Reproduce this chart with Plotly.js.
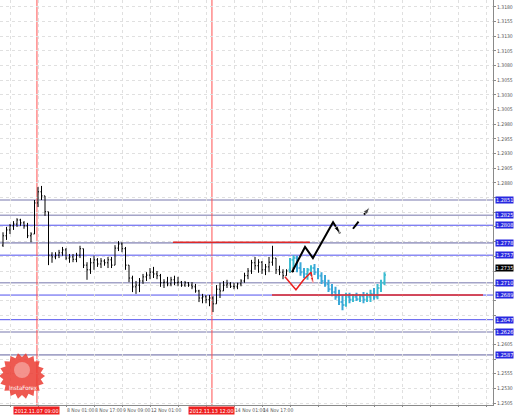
<!DOCTYPE html>
<html><head><meta charset="utf-8">
<script src="https://cdn.plot.ly/plotly-3.0.1.min.js"></script>
<style>html,body{margin:0;padding:0;background:#fff}#c{width:519px;height:417px}</style>
</head><body><div id="c"></div>
<script>
// ---- data: price bars (hours since 6 Nov 17:00) ----
const barHours = [-4,-2,0,2,4,6,8,10,12,14,16,18,20,22,24,26,28,30,32,34,36,38,40,42,44,46,48,50,52,54,56,58,60,62,64,66,68,70,72,74,76,78,80,82,84,86,88,90,92,94,96,98,100,102,104,106,108,110,112,114,116,118,120,122,124,126,128,130,132,134,136,138,140,142,144,146,148,150,152,154,156,158,160,162];
const barOpen = [1.2774,1.2790,1.2800,1.2807,1.2810,1.2817,1.2812,1.2807,1.2790,1.2793,1.2846,1.2865,1.2858,1.2831,1.2757,1.2754,1.2757,1.2761,1.2766,1.2752,1.2754,1.2750,1.2757,1.2768,1.2740,1.2732,1.2744,1.2749,1.2742,1.2747,1.2744,1.2749,1.2740,1.2769,1.2776,1.2768,1.2740,1.2718,1.2703,1.2706,1.2713,1.2720,1.2723,1.2728,1.2725,1.2722,1.2710,1.2711,1.2708,1.2715,1.2710,1.2711,1.2706,1.2710,1.2706,1.2703,1.2696,1.2684,1.2686,1.2681,1.2684,1.2674,1.2699,1.2696,1.2706,1.2708,1.2704,1.2703,1.2708,1.2713,1.2722,1.2730,1.2744,1.2739,1.2745,1.2732,1.2737,1.2745,1.2752,1.2732,1.2728,1.2722,1.2730,1.2735];
const barHigh = [1.2796,1.2805,1.2810,1.2815,1.2820,1.2819,1.2815,1.2812,1.2796,1.2851,1.2873,1.2875,1.2858,1.2831,1.2762,1.2762,1.2766,1.2771,1.2769,1.2759,1.2759,1.2761,1.2773,1.2768,1.2745,1.2752,1.2756,1.2752,1.2752,1.2750,1.2754,1.2754,1.2774,1.2781,1.2779,1.2771,1.2740,1.2722,1.2713,1.2718,1.2725,1.2728,1.2735,1.2737,1.2730,1.2725,1.2716,1.2720,1.2720,1.2722,1.2720,1.2713,1.2713,1.2711,1.2711,1.2708,1.2698,1.2691,1.2689,1.2689,1.2687,1.2706,1.2710,1.2713,1.2715,1.2711,1.2710,1.2710,1.2716,1.2727,1.2735,1.2749,1.2754,1.2750,1.2747,1.2742,1.2754,1.2773,1.2752,1.2739,1.2733,1.2733,1.2740,1.2739];
const barLow = [1.2771,1.2783,1.2793,1.2800,1.2805,1.2807,1.2802,1.2786,1.2779,1.2793,1.2839,1.2851,1.2824,1.2740,1.2744,1.2750,1.2752,1.2756,1.2749,1.2744,1.2745,1.2745,1.2752,1.2735,1.2715,1.2725,1.2732,1.2737,1.2735,1.2739,1.2735,1.2735,1.2740,1.2764,1.2762,1.2732,1.2711,1.2694,1.2691,1.2694,1.2708,1.2713,1.2716,1.2718,1.2716,1.2703,1.2701,1.2704,1.2704,1.2706,1.2704,1.2703,1.2703,1.2703,1.2699,1.2693,1.2677,1.2675,1.2675,1.2670,1.2660,1.2674,1.2684,1.2696,1.2701,1.2701,1.2699,1.2699,1.2704,1.2710,1.2716,1.2725,1.2732,1.2727,1.2725,1.2723,1.2728,1.2739,1.2725,1.2723,1.2716,1.2722,1.2727,1.2728];
const barClose = [1.2790,1.2800,1.2807,1.2810,1.2817,1.2812,1.2807,1.2790,1.2793,1.2846,1.2865,1.2858,1.2831,1.2757,1.2754,1.2757,1.2761,1.2766,1.2752,1.2754,1.2750,1.2757,1.2768,1.2740,1.2732,1.2744,1.2749,1.2742,1.2747,1.2744,1.2749,1.2740,1.2769,1.2776,1.2768,1.2740,1.2718,1.2703,1.2706,1.2713,1.2720,1.2723,1.2728,1.2725,1.2722,1.2710,1.2711,1.2708,1.2715,1.2710,1.2711,1.2706,1.2710,1.2706,1.2703,1.2696,1.2684,1.2686,1.2681,1.2684,1.2674,1.2699,1.2696,1.2706,1.2708,1.2704,1.2703,1.2708,1.2713,1.2722,1.2730,1.2744,1.2739,1.2745,1.2732,1.2737,1.2745,1.2752,1.2732,1.2728,1.2722,1.2730,1.2735,1.2735];

// ---- data: projected (analog) bars ----
const projHours = [160,162,164,166,168,170,172,174,176,178,180,182,184,186,188,190,192,194,196,198,200,202,204,206,208,210,212,214];
const projOpen = [1.2732,1.2749,1.2752,1.2735,1.2728,1.2725,1.2732,1.2735,1.2728,1.2722,1.2713,1.2708,1.2699,1.2694,1.2686,1.2677,1.2672,1.2686,1.2681,1.2686,1.2682,1.2687,1.2681,1.2686,1.2691,1.2686,1.2701,1.2710];
const projHigh = [1.2752,1.2757,1.2756,1.2745,1.2735,1.2735,1.2740,1.2742,1.2735,1.2728,1.2723,1.2715,1.2708,1.2703,1.2698,1.2689,1.2693,1.2693,1.2691,1.2693,1.2691,1.2694,1.2693,1.2698,1.2701,1.2708,1.2715,1.2728];
const projLow = [1.2728,1.2735,1.2728,1.2722,1.2718,1.2715,1.2722,1.2723,1.2716,1.2708,1.2703,1.2694,1.2687,1.2681,1.2672,1.2663,1.2669,1.2675,1.2677,1.2679,1.2677,1.2675,1.2677,1.2677,1.2681,1.2682,1.2694,1.2706];
const projClose = [1.2749,1.2752,1.2735,1.2728,1.2725,1.2732,1.2735,1.2728,1.2722,1.2713,1.2708,1.2699,1.2694,1.2686,1.2677,1.2672,1.2686,1.2681,1.2686,1.2682,1.2687,1.2681,1.2686,1.2691,1.2686,1.2701,1.2710,1.2723];

// ---- data: forecast zigzags ----
const blackPathH = [161.1,168.6,173.1,184.6,188.6];
const blackPathP = [1.2728,1.2771,1.2752,1.2813,1.2794];
const dashPathH = [196.0,205.7];
const dashPathP = [1.2802,1.2839];
const redPathH = [157.1,163.4,168.0,172.0,173.1];
const redPathP = [1.2720,1.2698,1.2716,1.2728,1.2710];

// ---- data: levels ----
const levelPrices = [1.2851,1.2825,1.2808,1.2778,1.2757,1.2710,1.2689,1.2647,1.2626,1.2587];
const levelKinds = ['g','g','b','g','b','g','b','b','g','g'];
const redLevelPrices = [1.2779,1.2689];
const redLevelFrom = [93.1,149.7];
const redLevelTo = [171.4,270.3];
const lastPrice = 1.2735;
const markerHours = [15.4,115.4];
const markerLabels = ['2012.11.07 09:00','2012.11.13 12:00'];

// ---- axis ticks ----
const priceTicks = [1.2505,1.2530,1.2555,1.2580,1.2605,1.2630,1.2655,1.2680,1.2705,1.2730,1.2755,1.2780,1.2805,1.2830,1.2855,1.2880,1.2905,1.2930,1.2955,1.2980,1.3005,1.3030,1.3055,1.3080,1.3105,1.3130,1.3155,1.3180];
const tickHours = [-16,0,16,32,48,64,80,96,112,128,144,160,176,192,208,224,240,256,272];
const tickLabels = ['6 Nov 01:00','6 Nov 17:00','7 Nov 09:00','8 Nov 01:00','8 Nov 17:00','9 Nov 09:00','12 Nov 01:00','12 Nov 17:00','13 Nov 09:00','14 Nov 01:00','14 Nov 17:00','','','','','','','',''];

// labels hidden behind the marker boxes
const boxPrices = levelPrices.concat([lastPrice]);
const priceText = priceTicks.map(t => boxPrices.some(b => Math.abs(b - t) < 0.0012) ? '' : t.toFixed(4));
const xText = tickLabels.map((s,i) => markerHours.some(h => tickHours[i] < h + 10 && tickHours[i] > h - 20) ? '' : s);

const traces = [
  {type:'ohlc', x:barHours, open:barOpen, high:barHigh, low:barLow, close:barClose,
   increasing:{line:{color:'#000',width:1}}, decreasing:{line:{color:'#000',width:1}},
   tickwidth:0.3, hoverinfo:'skip', showlegend:false},
  {type:'ohlc', x:projHours, open:projOpen, high:projHigh, low:projLow, close:projClose,
   increasing:{line:{color:'#3cbcd0',width:2}}, decreasing:{line:{color:'#3aa8d8',width:2}},
   tickwidth:0.4, hoverinfo:'skip', showlegend:false},
  {type:'scatter', mode:'lines+markers', x:redPathH, y:redPathP, line:{color:'#e82020',width:1.5},
   marker:{symbol:redPathH.map((v,i)=>i===redPathH.length-1?'arrow':'circle'), size:redPathH.map((v,i)=>i===redPathH.length-1?6:0), color:'#e82020', angleref:'previous'},
   hoverinfo:'skip', showlegend:false},
  {type:'scatter', mode:'lines+markers', x:blackPathH, y:blackPathP, line:{color:'#000',width:2},
   marker:{symbol:blackPathH.map((v,i)=>i===blackPathH.length-1?'arrow':'circle'), size:blackPathH.map((v,i)=>i===blackPathH.length-1?8:0), color:'#000', angleref:'previous'},
   hoverinfo:'skip', showlegend:false},
  {type:'scatter', mode:'lines+markers', x:dashPathH, y:dashPathP, line:{color:'#000',width:2,dash:'dash'},
   marker:{symbol:['circle','arrow'], size:[0,8], color:'#000', angleref:'previous'},
   hoverinfo:'skip', showlegend:false}
];

const shapes = [];
const annotations = [];
const boxFont = {family:'DejaVu Sans Condensed, DejaVu Sans', size:5.5, color:'#ffffff'};
levelPrices.forEach((p,i)=>{
  const g = levelKinds[i]==='g';
  shapes.push({type:'line', xref:'paper', yref:'y', x0:0, x1:1, y0:p, y1:p, layer:'below',
    line:{color: g?'#a4a4c8':'#5050ee', width: g?1.6:1}});
  annotations.push({xref:'paper', yref:'y', x:1, y:p, xanchor:'left', yanchor:'middle', xshift:2,
    text:p.toFixed(4), showarrow:false, bgcolor:'#2828e0', borderpad:0, font:boxFont});
});
redLevelPrices.forEach((p,i)=>{
  shapes.push({type:'line', xref:'x', yref:'y', x0:redLevelFrom[i], x1:redLevelTo[i], y0:p, y1:p,
    line:{color:'#e02828', width:1.6}});
});
markerHours.forEach((h,i)=>{
  shapes.push({type:'line', xref:'x', yref:'paper', x0:h, x1:h, y0:0, y1:1, layer:'below',
    line:{color:'#ff5050', width:1}});
  annotations.push({xref:'x', yref:'paper', x:h, y:0, xanchor:'center', yanchor:'top', yshift:-1,
    text:markerLabels[i], showarrow:false, bgcolor:'#ee2020', borderpad:0.5, font:boxFont});
});
annotations.push({xref:'paper', yref:'y', x:1, y:lastPrice, xanchor:'left', yanchor:'middle', xshift:2,
  text:lastPrice.toFixed(4), showarrow:false, bgcolor:'#000000', borderpad:0, font:boxFont});

// logo watermark (decoration)
const W = 493, H = 405;
(function(){
  const cx = 22, cy = 376, ro = 23, ri = 19, n = 18;
  let d = '';
  for (let k=0;k<2*n;k++){
    const r = k%2===0?ro:ri, a = Math.PI*k/n;
    const px = cx + r*Math.cos(a), py = cy + r*Math.sin(a);
    d += (k===0?'M':'L') + (px/W).toFixed(4) + ',' + (1-py/H).toFixed(4);
  }
  d += 'Z';
  shapes.push({type:'path', xref:'paper', yref:'paper', path:d, fillcolor:'rgba(235,60,50,0.85)', line:{width:0}});
  shapes.push({type:'circle', xref:'paper', yref:'paper', x0:(cx-8)/W, x1:(cx+8)/W, y0:1-(cy+2)/H, y1:1-(cy-14)/H,
    fillcolor:'rgba(255,255,255,0.35)', line:{width:0}});
  annotations.push({xref:'paper', yref:'paper', x:(cx+1)/W, y:1-387/H, xanchor:'center', yanchor:'middle',
    text:'InstaForex', showarrow:false, font:{family:'DejaVu Sans Condensed, DejaVu Sans', size:6, color:'#ffffff'}});
})();

const axisFont = {family:'Liberation Sans Narrow, DejaVu Sans Condensed, DejaVu Sans', size:5, color:'#555'};
const layout = {
  width:519, height:417,
  margin:{l:0, r:26, t:0, b:12, pad:0},
  paper_bgcolor:'#ffffff', plot_bgcolor:'#ffffff',
  showlegend:false,
  xaxis:{range:[-5.714,276], tickmode:'array', tickvals:tickHours, ticktext:xText, ticklabelposition:'outside right',
    tickangle:0, showgrid:true, gridcolor:'#e0e0e0', griddash:'dot', gridwidth:1,
    showline:true, linecolor:'#8a8a8a', linewidth:1, ticks:'outside', ticklen:1, tickcolor:'#8a8a8a',
    tickfont:axisFont, zeroline:false, rangeslider:{visible:false}, fixedrange:true},
  yaxis:{side:'right', range:[1.25016,1.31919], tickmode:'array', tickvals:priceTicks, ticktext:priceText,
    showgrid:true, gridcolor:'#e0e0e0', griddash:'dot', gridwidth:1,
    showline:true, linecolor:'#8a8a8a', linewidth:1, ticks:'outside', ticklen:2, tickcolor:'#8a8a8a',
    tickfont:axisFont, zeroline:false, fixedrange:true},
  shapes:shapes, annotations:annotations
};
Plotly.newPlot('c', traces, layout, {staticPlot:true, displayModeBar:false});
</script></body></html>
